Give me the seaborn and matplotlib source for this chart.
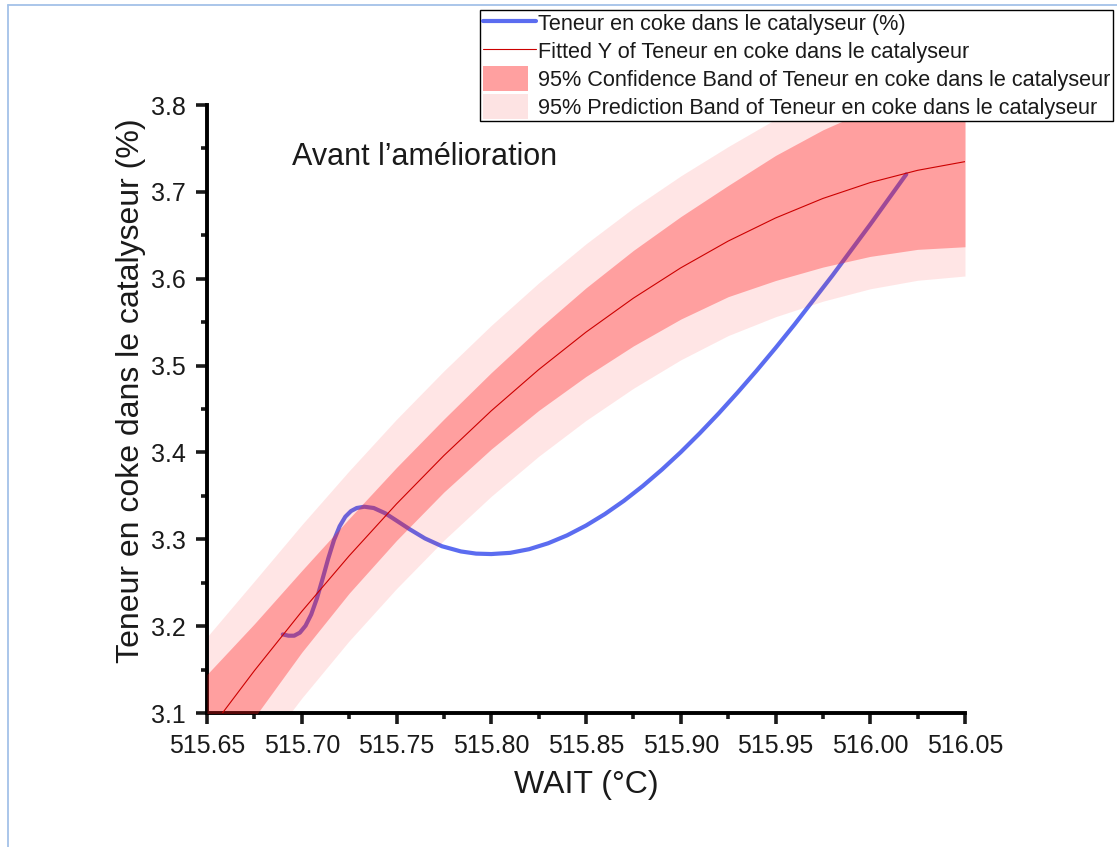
import numpy as np
import pandas as pd
import matplotlib
matplotlib.use("Agg")
import matplotlib.pyplot as plt
import seaborn as sns
from matplotlib.lines import Line2D
from matplotlib.patches import Patch, Rectangle
from matplotlib.legend_handler import HandlerPatch
from matplotlib.ticker import MultipleLocator, FormatStrFormatter

# Measured coke content along the WAIT temperature
wait_measured = [515.690, 515.693, 515.696, 515.699, 515.702, 515.705, 515.708,
                 515.711, 515.714, 515.717, 515.720, 515.723, 515.726, 515.729,
                 515.733, 515.738, 515.744, 515.750, 515.757, 515.765, 515.774,
                 515.784, 515.792, 515.800, 515.810, 515.820, 515.830, 515.840,
                 515.850, 515.860, 515.870, 515.880, 515.890, 515.900, 515.910,
                 515.920, 515.930, 515.940, 515.950, 515.960, 515.980, 516.000,
                 516.019]
coke_measured = [3.1905, 3.1890, 3.1890, 3.1925, 3.2005, 3.2135, 3.2320,
                 3.2545, 3.2780, 3.2990, 3.3150, 3.3260, 3.3325, 3.3360,
                 3.3375, 3.3360, 3.3300, 3.3215, 3.3115, 3.3010, 3.2920,
                 3.2860, 3.2835, 3.2830, 3.2844, 3.2886, 3.2954, 3.3045,
                 3.3158, 3.3291, 3.3443, 3.3614, 3.3801, 3.4003, 3.4220,
                 3.4449, 3.4690, 3.4941, 3.5202, 3.5472, 3.6036, 3.6625,
                 3.7202]

# Polynomial fit with its 95% confidence and prediction bands
wait_fit = [515.650, 515.675, 515.700, 515.725, 515.750, 515.775, 515.800,
            515.825, 515.850, 515.875, 515.900, 515.925, 515.950, 515.975,
            516.000, 516.025, 516.050]
coke_fit = [3.0764, 3.1487, 3.2169, 3.2809, 3.3407, 3.3964, 3.4479, 3.4953,
            3.5385, 3.5776, 3.6125, 3.6433, 3.6699, 3.6924, 3.7107, 3.7248, 3.7348]
conf_low = [3.0084, 3.0947, 3.1699, 3.2379, 3.2987, 3.3544, 3.4039, 3.4483,
            3.4875, 3.5226, 3.5535, 3.5793, 3.5979, 3.6134, 3.6257, 3.6338, 3.6368]
conf_high = [3.1444, 3.2027, 3.2639, 3.3239, 3.3827, 3.4384, 3.4919, 3.5423,
             3.5895, 3.6326, 3.6715, 3.7073, 3.7419, 3.7714, 3.7957, 3.8158, 3.8328]
pred_low = [2.9652, 3.0455, 3.1171, 3.1830, 3.2432, 3.2989, 3.3495, 3.3955,
            3.4368, 3.4738, 3.5066, 3.5345, 3.5562, 3.5741, 3.5884, 3.5982, 3.6031]
pred_high = [3.1876, 3.2519, 3.3167, 3.3788, 3.4382, 3.4939, 3.5463, 3.5951,
             3.6402, 3.6814, 3.7184, 3.7521, 3.7836, 3.8107, 3.8330, 3.8514, 3.8665]

x_ticks = [515.65, 515.70, 515.75, 515.80, 515.85, 515.90, 515.95, 516.00, 516.05]
y_ticks = [3.1, 3.2, 3.3, 3.4, 3.5, 3.6, 3.7, 3.8]

series_label = "Teneur en coke dans le catalyseur (%)"
fit_label = "Fitted Y of Teneur en coke dans le catalyseur"
conf_label = "95% Confidence Band of Teneur en coke dans le catalyseur"
pred_label = "95% Prediction Band of Teneur en coke dans le catalyseur"
x_label = "WAIT (°C)"
y_label = "Teneur en coke dans le catalyseur (%)"
note = "Avant l\u2019amélioration"

measured = pd.DataFrame({"wait": wait_measured, "coke": coke_measured})
fitted = pd.DataFrame({"wait": wait_fit, "coke": coke_fit,
                       "conf_low": conf_low, "conf_high": conf_high,
                       "pred_low": pred_low, "pred_high": pred_high})

sns.set_theme(style="ticks")
plt.rcParams["font.family"] = ["Liberation Sans", "DejaVu Sans"]

W, H = 1117, 847
fig = plt.figure(figsize=(W / 100, H / 100), dpi=100)
ax = fig.add_axes([207 / W, 1 - 713 / H, 758 / W, 608 / H])

blue = "#5b6cf0"
band_red = "#ff1a1a"
fit_red = "#cc0000"

sns.lineplot(data=measured, x="wait", y="coke", ax=ax, color=blue,
             linewidth=3.0, sort=False, zorder=1, legend=False)
ax.fill_between(fitted["wait"], fitted["pred_low"], fitted["pred_high"],
                color=band_red, alpha=0.11, linewidth=0, zorder=2)
ax.fill_between(fitted["wait"], fitted["conf_low"], fitted["conf_high"],
                color=band_red, alpha=0.34, linewidth=0, zorder=3)
sns.lineplot(data=fitted, x="wait", y="coke", ax=ax, color=fit_red,
             linewidth=0.8, sort=False, zorder=4, legend=False)

ax.set_xlim(515.65, 516.05)
ax.set_ylim(3.1, 3.8)
ax.set_xticks(x_ticks)
ax.set_yticks(y_ticks)
ax.xaxis.set_minor_locator(MultipleLocator(0.025))
ax.yaxis.set_minor_locator(MultipleLocator(0.05))
ax.xaxis.set_major_formatter(FormatStrFormatter("%.2f"))
ax.yaxis.set_major_formatter(FormatStrFormatter("%.1f"))

for side in ("top", "right"):
    ax.spines[side].set_visible(False)
for side in ("left", "bottom"):
    ax.spines[side].set_linewidth(2.8)
    ax.spines[side].set_color("black")

ax.tick_params(axis="both", which="major", direction="out", length=8,
               width=2.6, labelsize=18, pad=7, colors="#1a1a1a")
ax.tick_params(axis="both", which="minor", direction="out", length=4.5,
               width=2.6, color="#1a1a1a")

ax.set_xlabel(x_label, fontsize=23, color="#1a1a1a")
ax.set_ylabel(y_label, fontsize=23, color="#1a1a1a")
ax.xaxis.set_label_coords(0.5, -0.094)
ax.yaxis.set_label_coords(-0.080, 0.53)

ax.text(0.112, 0.901, note, transform=ax.transAxes, fontsize=22,
        color="#1a1a1a", ha="left", va="baseline")


def band_swatch(legend, orig_handle, xdescent, ydescent, width, height, fontsize):
    # compact, slightly taller swatch for the band entries
    return Rectangle((-xdescent, -ydescent - 0.15 * height),
                     width * 0.85, height * 1.3)


handles = [
    Line2D([], [], color=blue, linewidth=3.0),
    Line2D([], [], color=fit_red, linewidth=0.8),
    Patch(facecolor="#ffa0a0", edgecolor="none"),
    Patch(facecolor="#fde3e3", edgecolor="none"),
]
leg = fig.legend(handles, [series_label, fit_label, conf_label, pred_label],
                 loc="upper right", bbox_to_anchor=(1113 / W, 1 - 10 / H),
                 bbox_transform=fig.transFigure, fontsize=15.6,
                 frameon=True, fancybox=False, framealpha=1,
                 edgecolor="black", borderpad=0.12, labelspacing=0.27,
                 handlelength=2.45, handleheight=1.0, handletextpad=0.1,
                 borderaxespad=0,
                 handler_map={Patch: HandlerPatch(patch_func=band_swatch)})
leg.get_frame().set_linewidth(1.0)
for t in leg.get_texts():
    t.set_color("#1a1a1a")

# thin light-blue frame along the top and left edges
frame_color = "#a4c2e8"
fig.add_artist(Line2D([8 / W, 1], [1 - 5 / H, 1 - 5 / H],
                      transform=fig.transFigure, color=frame_color, linewidth=1.3))
fig.add_artist(Line2D([8 / W, 8 / W], [0, 1 - 5 / H],
                      transform=fig.transFigure, color=frame_color, linewidth=1.3))

fig.savefig("out.png", dpi=100)
